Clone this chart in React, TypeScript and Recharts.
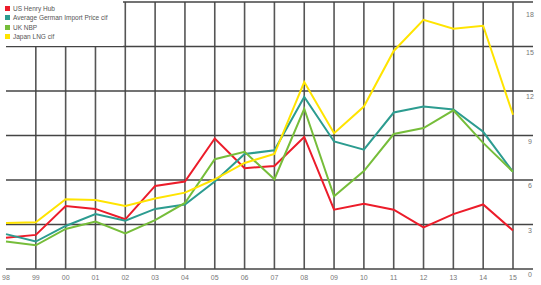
import React from 'react';
import { LineChart, Line, XAxis, YAxis, ReferenceLine } from 'recharts';

const years = ['98', '99', '00', '01', '02', '03', '04', '05', '06', '07', '08', '09', '10', '11', '12', '13', '14', '15'];
const henryHub = [2.1, 2.3, 4.25, 4.05, 3.35, 5.6, 5.9, 8.8, 6.8, 6.95, 8.9, 4.0, 4.4, 4.0, 2.8, 3.7, 4.35, 2.6];
const germanImport = [2.35, 1.85, 2.9, 3.7, 3.25, 4.05, 4.35, 5.9, 7.75, 8.0, 11.6, 8.6, 8.05, 10.55, 10.95, 10.75, 9.25, 6.55];
const ukNbp = [1.85, 1.6, 2.7, 3.2, 2.4, 3.3, 4.45, 7.4, 7.9, 6.05, 10.8, 4.9, 6.6, 9.1, 9.5, 10.7, 8.5, 6.55];
const japanLng = [3.1, 3.15, 4.7, 4.65, 4.25, 4.75, 5.15, 6.05, 7.15, 7.75, 12.6, 9.15, 10.95, 14.7, 16.8, 16.2, 16.4, 10.4];
const yTicks = [0, 3, 6, 9, 12, 15, 18];

const series = [
  { key: 'hh', name: 'US Henry Hub', color: '#ec1c2a' },
  { key: 'de', name: 'Average German Import Price cif', color: '#2c9c90' },
  { key: 'uk', name: 'UK NBP', color: '#76bd3a' },
  { key: 'jp', name: 'Japan LNG cif', color: '#ffe400' },
];

const data = years.map((year, i) => ({
  year,
  hh: henryHub[i],
  de: germanImport[i],
  uk: ukNbp[i],
  jp: japanLng[i],
}));

const FONT = '"Liberation Sans", Arial, sans-serif';

// legend sits on a white box over the grid, top-left
const LegendBox = () => (
  <div style={{ position: 'absolute', top: 0, left: 0, background: '#fff', width: 123, height: 46, paddingTop: 4, boxSizing: 'border-box' }}>
    {series.map((s) => (
      <div key={s.key} style={{ display: 'flex', alignItems: 'center', height: 9.3, paddingLeft: 5, whiteSpace: 'nowrap' }}>
        <span style={{ width: 5, height: 5, background: s.color, display: 'inline-block', marginRight: 3, flexShrink: 0 }} />
        <span style={{ fontFamily: FONT, fontSize: 6.5, color: '#555', lineHeight: '9px' }}>{s.name}</span>
      </div>
    ))}
  </div>
);

const YTick = ({ y, payload }: any) => (
  <text x={530} y={y + 8} textAnchor="middle" fontFamily={FONT} fontSize={7} fill="#777">
    {payload.value}
  </text>
);

export default function App() {
  return (
    <div style={{ position: 'absolute', top: 0, left: 0, width: 541, height: 285 }}>
      <LineChart width={541} height={285} data={data} margin={{ top: 2, right: 0, bottom: 0, left: 6 }}>
        <XAxis
          dataKey="year"
          padding={{ left: 0, right: 20 }}
          axisLine={false}
          tickLine={false}
          height={16}
          interval={0}
          tick={{ fontFamily: FONT, fontSize: 7, fill: '#777' }}
          tickMargin={0}
        />
        <YAxis
          orientation="right"
          width={8}
          domain={[0, 18]}
          ticks={yTicks}
          axisLine={false}
          tickLine={false}
          tick={<YTick />}
        />
        {years.slice(1).map((yr) => (
          <ReferenceLine key={yr} x={yr} stroke="#555" strokeWidth={1.6} />
        ))}
        {yTicks.map((v) => (
          <ReferenceLine key={v} y={v} stroke="#444" strokeWidth={1.4} />
        ))}
        {series.map((s) => (
          <Line
            key={s.key}
            dataKey={s.key}
            name={s.name}
            stroke={s.color}
            strokeWidth={2}
            dot={false}
            type="linear"
            isAnimationActive={false}
          />
        ))}
      </LineChart>
      <LegendBox />
    </div>
  );
}
